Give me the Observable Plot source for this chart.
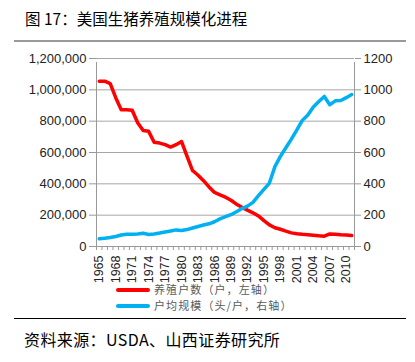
<!DOCTYPE html>
<html><head><meta charset="utf-8">
<script src="https://cdn.jsdelivr.net/npm/d3@7"></script>
<script src="https://cdn.jsdelivr.net/npm/@observablehq/plot@0.6"></script>
<style>
body{margin:0;background:#fff;}
#wrap{position:relative;width:415px;height:362px;overflow:hidden;font-family:"Noto Sans CJK SC",sans-serif;}
#title{position:absolute;left:25px;top:11px;font-size:15.5px;line-height:1;color:#000;white-space:nowrap;}
#rule1{position:absolute;left:14px;top:40px;width:392px;height:2px;background:#999;}
#chart{position:absolute;left:0;top:42px;}
.leg{position:absolute;left:116px;font-size:11px;line-height:1;color:#595959;display:flex;align-items:center;white-space:nowrap;letter-spacing:1.1px;}
.sw{width:34px;height:4px;margin-right:4px;border-radius:2px;}
#rule2{position:absolute;left:14px;top:318px;width:392px;height:1px;background:#000;}
#source{position:absolute;left:24px;top:331px;font-size:16px;line-height:1;color:#000;white-space:nowrap;letter-spacing:0.4px;}
</style>
</head><body>
<div id="wrap">
  <div id="title">图 17：美国生猪养殖规模化进程</div>
  <div id="rule1"></div>
  <div id="chart"></div>
  <div class="leg" id="leg1" style="top:284px"></div>
  <div class="leg" id="leg2" style="top:300px"></div>
  <div id="rule2"></div>
  <div id="source">资料来源：USDA、山西证券研究所</div>
</div>
<script>
const years = [1965,1966,1967,1968,1969,1970,1971,1972,1973,1974,
  1975,1976,1977,1978,1979,1980,1981,1982,1983,1984,
  1985,1986,1987,1988,1989,1990,1991,1992,1993,1994,
  1995,1996,1997,1998,1999,2000,2001,2002,2003,2004,
  2005,2006,2007,2008,2009,2010,2011];
// 养殖户数（户，左轴）
const farms = [1055000,1055000,1040000,950000,873000,873000,870000,790000,740000,735000,
  665000,660000,650000,635000,650000,670000,575000,485000,455000,420000,
  380000,345000,330000,315000,295000,270000,250000,232000,215000,195000,
  165000,138000,120000,110000,98000,87000,82000,78000,75000,72000,
  68000,66000,80000,78000,75000,73000,70000];
// 户均规模（头/户，右轴）
const sizes = [49,52,57,64,73,78,78,80,85,77,
  80,86,93,99,106,102,108,118,128,137,
  145,158,176,190,203,222,242,258,282,325,
  365,405,510,575,630,685,745,805,840,890,
  925,958,905,930,932,950,970];
const leftTicks = [0,200000,400000,600000,800000,1000000,1200000];
const rightTicks = [0,200,400,600,800,1000,1200];
const labelYears = [1965,1968,1971,1974,1977,1980,1983,1986,1989,1992,1995,1998,2001,2004,2007,2010];
const seriesNames = ["养殖户数（户，左轴）","户均规模（头/户，右轴）"];
const colors = ["#ff0000","#00b0f0"];

const rows = years.map((y,i)=>({year:y, farms:farms[i], size:sizes[i]}));
const ratio = 1000; // left-axis units per right-axis unit
const boundaries = years.map(y=>y-0.5).concat([years[years.length-1]+0.5]);

const chart = Plot.plot({
  width:415, height:248,
  marginTop:16, marginBottom:44, marginLeft:96, marginRight:61,
  style:{fontFamily:"'Liberation Sans', Arial, sans-serif", fontSize:"13px", color:"#222", background:"transparent"},
  x:{domain:[years[0]-0.5, years[years.length-1]+0.5]},
  y:{domain:[0,1200000]},
  marks:[
    Plot.gridY(leftTicks, {stroke:"#a6a6a6", strokeOpacity:1}),
    Plot.axisY(leftTicks, {anchor:"left", tickFormat:d3.format(","), tickSize:7, tickPadding:3, stroke:"#999", label:null}),
    Plot.axisY(rightTicks.map(d=>d*ratio), {anchor:"right", tickFormat:d=>String(d/ratio), tickSize:6, tickPadding:3, stroke:"#999", label:null}),
    Plot.axisX(boundaries, {tickSize:4, tickFormat:()=>"", stroke:"#999", label:null}),
    Plot.axisX(labelYears, {tickSize:0, tickRotate:-90, tickPadding:9, fontSize:12.5, tickFormat:d=>String(d), label:null}),
    Plot.ruleX([years[0]-0.5, years[years.length-1]+0.5], {stroke:"#999", y1:0, y2:1200000, insetBottom:-4}),
    Plot.ruleY([0], {stroke:"#999"}),
    Plot.lineY(rows, {x:"year", y:"farms", stroke:colors[0], strokeWidth:3.5}),
    Plot.lineY(rows, {x:"year", y:d=>d.size*ratio, stroke:colors[1], strokeWidth:3.5})
  ]
});
document.getElementById("chart").appendChild(chart);
["leg1","leg2"].forEach((id,i)=>{
  const el=document.getElementById(id);
  el.innerHTML = `<span class="sw" style="background:${colors[i]}"></span><span>${seriesNames[i]}</span>`;
});
</script>
</body></html>
